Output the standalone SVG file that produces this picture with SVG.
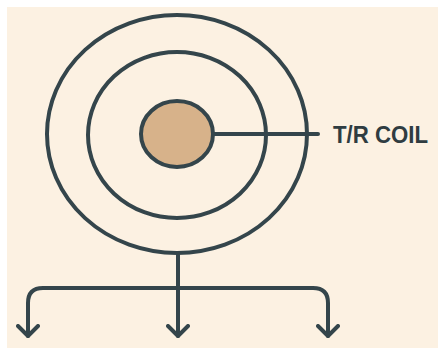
<svg xmlns="http://www.w3.org/2000/svg" width="438" height="356" viewBox="0 0 438 356">
<defs>
<style>
.ln{fill:none;stroke:#34454b;stroke-width:4;stroke-linecap:round;stroke-linejoin:round}
.lbl{font-family:"Liberation Sans",Arial,sans-serif;font-weight:bold;font-size:24px;fill:#2f3c41}
</style>
<marker id="chev" viewBox="0 0 14 24" refX="12" refY="12" markerWidth="14" markerHeight="24" markerUnits="userSpaceOnUse" orient="auto">
<path d="M2 2 L12 12 L2 22" fill="none" stroke="#34454b" stroke-width="4" stroke-linecap="round" stroke-linejoin="round"/>
</marker>
</defs>
<rect width="438" height="356" fill="#ffffff"/>
<rect x="7" y="7" width="431" height="341" fill="#fcf1e2"/>
<g id="outer-ring"><ellipse class="ln" cx="177" cy="134" rx="130" ry="119"/></g>
<g id="middle-ring"><ellipse class="ln" cx="177" cy="135" rx="89" ry="83"/></g>
<g id="core"><ellipse cx="177" cy="134" rx="36" ry="33" fill="#d7b28a" stroke="#34454b" stroke-width="4"/></g>
<g id="label"><text class="lbl" x="333" y="143" textLength="95" lengthAdjust="spacingAndGlyphs">T/R COIL</text></g>
<g id="connectors">
<line class="ln" x1="213" y1="134" x2="318" y2="134"/>
<path class="ln" d="M178 253 V336" marker-end="url(#chev)"/>
<path class="ln" d="M178 288 H43 Q28 288 28 303 V336" marker-end="url(#chev)"/>
<path class="ln" d="M178 288 H313 Q328 288 328 303 V336" marker-end="url(#chev)"/>
</g>
</svg>
